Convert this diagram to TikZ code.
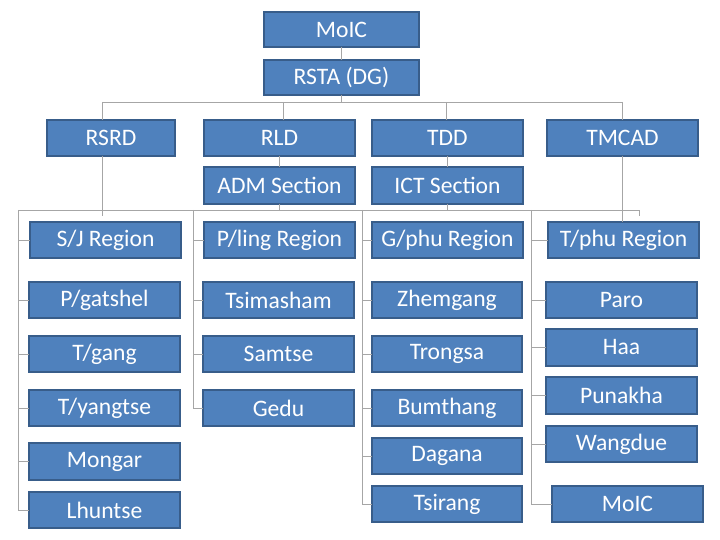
\documentclass[tikz,border=0pt]{standalone}
\usepackage{fontspec}
\setmainfont{Carlito}
\definecolor{boxfill}{HTML}{4F81BD}
\definecolor{boxline}{HTML}{385D8A}
\definecolor{conn}{HTML}{A6A6A6}
\tikzset{
  orgbox/.style={draw=boxline, line width=1.2pt, fill=boxfill, text=white,
    font=\fontsize{23.6}{26}\selectfont, inner sep=0pt, outer sep=0pt},
  link/.style={draw=conn, line width=0.9pt}
}
\newcommand{\bx}[6]{%
  \pgfmathsetmacro{\bw}{#4-#2}\pgfmathsetmacro{\bh}{#5-#3}%
  \node[orgbox, minimum width=\bw pt, minimum height=\bh pt] (#1) at ({(#2+#4)/2},{(#3+#5)/2}) {#6};}
\begin{document}
\begin{tikzpicture}[x=1pt,y=-1pt]
\useasboundingbox (0,0) rectangle (720,540);
\coordinate (t1) at (102,102);
\coordinate (t2) at (283,102);
\coordinate (t3) at (446,102);
\coordinate (t4) at (622,102);
\coordinate (l0) at (18,210);
\coordinate (l1) at (193,210);
\coordinate (l2) at (362,210);
\coordinate (l3) at (531,210);
\coordinate (l4) at (639,210);
\coordinate (l4e) at (639,216);
\coordinate (r1e) at (102,216);
% boxes
\bx{moic}{264}{12}{419}{47}{MoIC}
\bx{rsta}{264}{60}{419}{95}{RSTA (DG)}
\bx{rsrd}{47}{120}{175}{156}{RSRD}
\bx{rld}{204}{120}{355}{156}{RLD}
\bx{tdd}{372}{120}{523}{156}{TDD}
\bx{tmcad}{547}{120}{698}{156}{TMCAD}
\bx{adm}{204}{167}{355}{204}{ADM Section}
\bx{ict}{372}{167}{523}{204}{ICT Section}
\bx{sj}{30}{222}{181}{258}{S/J Region}
\bx{pl}{204}{222}{355}{258}{P/ling Region}
\bx{gp}{372}{222}{523}{258}{G/phu Region}
\bx{tp}{548}{222}{699}{258}{T/phu Region}
\bx{pg}{29}{282}{180}{318}{P/gatshel}
\bx{tg}{29}{336}{180}{372}{T/gang}
\bx{ty}{29}{390}{180}{426}{T/yangtse}
\bx{mo}{29}{443}{180}{480}{Mongar}
\bx{lh}{29}{492}{180}{528}{Lhuntse}
\bx{ts}{203}{282}{354}{318}{Tsimasham}
\bx{sa}{203}{336}{354}{372}{Samtse}
\bx{ge}{203}{390}{354}{426}{Gedu}
\bx{zh}{372}{282}{522}{318}{Zhemgang}
\bx{tr}{372}{336}{522}{372}{Trongsa}
\bx{bu}{372}{390}{522}{426}{Bumthang}
\bx{da}{372}{438}{522}{474}{Dagana}
\bx{tsi}{372}{486}{522}{522}{Tsirang}
\bx{pa}{546}{282}{697}{318}{Paro}
\bx{ha}{546}{329}{697}{366}{Haa}
\bx{pu}{546}{377}{697}{414}{Punakha}
\bx{wa}{546}{426}{697}{462}{Wangdue}
\bx{mo2}{552}{486}{703}{522}{MoIC}
% connectors
\path[link] (moic.south) -- (rsta.north);
\path[link] (rsta.south) -- (rsta.south |- t1);
\path[link] (t1) -- (t4);
\path[link] (t1) -- (t1 |- rsrd.north);
\path[link] (t2) -- (t2 |- rld.north);
\path[link] (t3) -- (t3 |- tdd.north);
\path[link] (t4) -- (t4 |- tmcad.north);
\path[link] (rld.south) -- (adm.north);
\path[link] (tdd.south) -- (ict.north);
\path[link] (t1 |- rsrd.south) -- (r1e);
\path[link] (t4 |- tmcad.south) -- (t4 |- tp.north);
\path[link] (l0) -- (l4) -- (l4e);
\path[link] (adm.south) -- (adm.south |- l0);
\path[link] (ict.south) -- (ict.south |- l0);
% column 1
\path[link] (l0) -- (l0 |- lh.west) -- (lh.west);
\foreach \n in {sj,pg,tg,ty,mo}{\path[link] (l0 |- \n.west) -- (\n.west);}
% column 2
\path[link] (l1) -- (l1 |- ge.west) -- (ge.west);
\foreach \n in {pl,ts,sa}{\path[link] (l1 |- \n.west) -- (\n.west);}
% column 3
\path[link] (l2) -- (l2 |- tsi.west) -- (tsi.west);
\foreach \n in {gp,zh,tr,bu,da}{\path[link] (l2 |- \n.west) -- (\n.west);}
% column 4
\path[link] (l3) -- (l3 |- mo2.west) -- (mo2.west);
\foreach \n in {tp,pa,ha,pu,wa}{\path[link] (l3 |- \n.west) -- (\n.west);}
\end{tikzpicture}
\end{document}
